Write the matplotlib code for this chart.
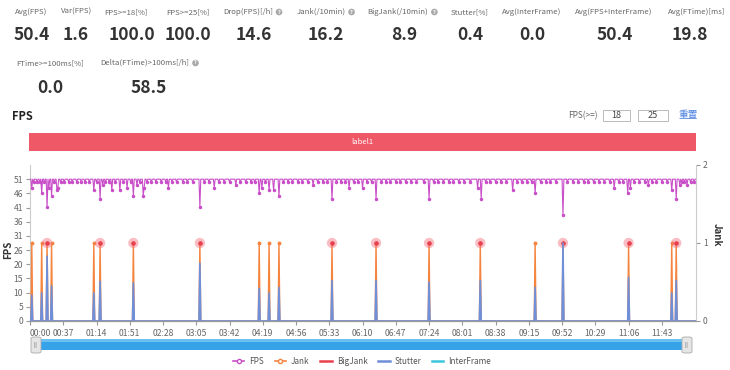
import numpy as np
import matplotlib.pyplot as plt
from matplotlib.patches import Rectangle, FancyBboxPatch
from matplotlib.lines import Line2D

plt.rcParams['font.family'] = ['Noto Sans CJK SC', 'DejaVu Sans']

# ---- data ----
metric_names = ["Avg(FPS)", "Var(FPS)", "FPS>=18[%]", "FPS>=25[%]", "Drop(FPS)[/h]",
                "Jank(/10min)", "BigJank(/10min)", "Stutter[%]", "Avg(InterFrame)",
                "Avg(FPS+InterFrame)", "Avg(FTime)[ms]", "FTime>=100ms[%]",
                "Delta(FTime)>100ms[/h]"]
metric_values = ["50.4", "1.6", "100.0", "100.0", "14.6", "16.2", "8.9", "0.4", "0.0",
                 "50.4", "19.8", "0.0", "58.5"]
metric_help = [False, False, False, False, True, True, True, False, False, False, False,
               False, True]

n_seconds = 742
fps_base = 51
# seconds where FPS drops by one frame
fps_small_dips = [4, 8, 11, 16, 27, 34, 38, 43, 47, 52, 57, 61, 66, 74, 84, 88, 95, 104,
                  112, 122, 130, 135, 140, 146, 151, 158, 163, 170, 175, 181, 194, 199,
                  210, 216, 222, 234, 240, 246, 250, 262, 282, 287, 292, 298, 303, 309,
                  320, 326, 331, 341, 346, 351, 360, 365, 375, 380, 391, 396, 401, 407,
                  412, 418, 424, 430, 438, 449, 454, 460, 466, 471, 477, 483, 490, 507,
                  512, 518, 524, 530, 542, 547, 553, 558, 568, 574, 579, 585, 598, 604,
                  610, 616, 621, 627, 633, 639, 645, 655, 660, 672, 678, 684, 692, 697,
                  703, 709, 725, 728, 735, 739]
fps_drop_t = [2, 13, 19, 21, 24, 30, 31, 71, 78, 81, 91, 100, 108, 115, 119, 126, 127,
              154, 189, 205, 229, 255, 258, 266, 271, 277, 315, 336, 355, 370, 385, 444,
              498, 502, 537, 562, 593, 650, 665, 668, 688, 714, 719, 723, 731]
fps_drop_v = [48, 46, 41, 48, 45, 47, 48, 47, 44, 49, 47, 47, 48, 45, 49, 45, 48,
              48, 41, 48, 49, 46, 48, 47, 47, 45, 49, 44, 48, 48, 44, 44,
              48, 44, 47, 46, 38, 48, 46, 48, 49, 47, 44, 49, 49]

jank_t = [2, 13, 19, 24, 71, 78, 115, 189, 255, 266, 277, 336, 385, 444, 501, 562, 593,
          666, 714, 719]
bigjank_t = [19, 78, 115, 189, 336, 385, 444, 501, 593, 666, 719]
stutter_v = [0.33, 0.36, 0.83, 0.45, 0.36, 0.51, 0.49, 0.74, 0.42, 0.36, 0.43, 0.52,
             0.52, 0.50, 0.52, 0.43, 1.0, 0.56, 0.36, 0.52]

fps_ticks = [0, 5.1, 10.2, 15.3, 20.4, 25.5, 30.6, 35.7, 40.8, 45.9, 51]
fps_tick_labels = ["0", "5", "10", "15", "20", "26", "31", "36", "41", "46", "51"]
time_ticks = [0, 37, 74, 111, 148, 185, 222, 259, 296, 333, 370, 407, 444, 481, 518,
              555, 592, 629, 666, 703]
time_labels = ["00:00", "00:37", "01:14", "01:51", "02:28", "03:05", "03:42", "04:19",
               "04:56", "05:33", "06:10", "06:47", "07:24", "08:01", "08:38", "09:15",
               "09:52", "10:29", "11:06", "11:43"]

series_names = ["FPS", "Jank", "BigJank", "Stutter", "InterFrame"]

# ---- colours ----
c_fps = '#c94fc9'
c_jank = '#f5843f'
c_big = '#e8404f'
c_stutter = '#6f8fd8'
c_inter = '#3cc6dc'
c_text = '#333333'
c_label = '#666666'

W, H = 730, 370


def fx(x):
    return x / W


def fy(y):
    return 1 - y / H


fig = plt.figure(figsize=(7.3, 3.7), dpi=100)
renderer = fig.canvas.get_renderer()

# ---- metric header ----
label_cx = [31, 77, 126, 188, 248, 321, 398, 470, 532, 614, 697, 50, 145]
label_y = [12] * 11 + [63] * 2
value_xy = [(32, 35), (76, 35), (132, 35), (188, 35), (254, 35), (326, 35), (404, 35),
            (470, 35), (532, 35), (615, 35), (690, 35), (50, 88), (149, 88)]

for i, (name, val) in enumerate(zip(metric_names, metric_values)):
    vx, vy = value_xy[i]
    txt = fig.text(fx(label_cx[i]), fy(label_y[i]), name, fontsize=5.6, color=c_label,
                   ha='center', va='center')
    fig.text(fx(vx), fy(vy), val, fontsize=12.5, fontweight='bold', color=c_text,
             ha='center', va='center')
    if metric_help[i]:
        bb = txt.get_window_extent(renderer)
        fig.text(fx(bb.x1 + 6), fy(label_y[i]), '?', fontsize=4, color='white',
                 ha='center', va='center', fontweight='bold',
                 bbox=dict(boxstyle='circle,pad=0.15', fc='#aaaaaa', ec='none'))

# ---- chart title and controls ----
fig.text(fx(12), fy(117), 'FPS', fontsize=8, fontweight='bold', color='#222', va='center')
fig.text(fx(598), fy(116), 'FPS(>=)', fontsize=6, color=c_label, ha='right', va='center')
for (bx, bw, txt) in [(603, 27, '18'), (638, 30, '25')]:
    fig.add_artist(Rectangle((fx(bx), fy(121)), bw / W, 11 / H, transform=fig.transFigure,
                             fc='white', ec='#bbbbbb', lw=0.7))
    fig.text(fx(bx + bw / 2), fy(115.5), txt, fontsize=6.5, color='#444', ha='center',
             va='center')
fig.text(fx(688), fy(115), '重置', fontsize=7, color='#4a80e0', ha='center', va='center')

# label bar
fig.add_artist(Rectangle((fx(29), fy(151)), 667 / W, 18 / H, transform=fig.transFigure,
                         fc='#ee5867', ec='none'))
fig.text(fx(362), fy(142), 'label1', fontsize=5.5, color='white', ha='center', va='center')

# ---- main chart ----
ax = fig.add_axes([fx(30), fy(321), 666 / W, 156 / H])
t = np.arange(n_seconds)

fps = np.full(n_seconds, fps_base, dtype=float)
fps[fps_small_dips] = fps_base - 1
fps[fps_drop_t] = fps_drop_v
dip_idx = sorted(set(fps_small_dips) | set(fps_drop_t))
ax.plot(t, fps, color=c_fps, lw=0.8, marker='o', ms=1.5, markevery=dip_idx, zorder=3)

ax.set_xlim(0, n_seconds - 1)
ax.set_ylim(0, 56.1)
ax.set_yticks(fps_ticks, fps_tick_labels)
ax.set_xticks(time_ticks, time_labels)
ax.get_xticklabels()[0].set_horizontalalignment('left')
ax.tick_params(axis='y', labelsize=6.2, colors=c_label, length=3, color='#999', pad=2)
ax.tick_params(axis='x', labelsize=6.2, colors=c_label, length=3, color='#999', pad=3)
ax.spines['top'].set_visible(False)
ax.spines['right'].set_visible(False)
ax.spines['left'].set_color('#cccccc')
ax.spines['bottom'].set_color('#999999')

ax2 = ax.twinx()
jank = np.zeros(n_seconds)
jank[jank_t] = 1
stutter = np.zeros(n_seconds)
stutter[jank_t] = stutter_v

ax2.plot(t, jank, color=c_jank, lw=1.0, marker='o', ms=1.8, markevery=jank_t, zorder=2)
ax2.scatter(bigjank_t, np.ones(len(bigjank_t)), s=55, color='#f26d7a', alpha=0.45,
            edgecolors='none', zorder=3)
ax2.scatter(bigjank_t, np.ones(len(bigjank_t)), s=5, color=c_big, zorder=4)
ax2.plot(t, stutter, color=c_stutter, lw=1.2, zorder=5)

ax2.set_ylim(0, 2)
ax2.set_yticks([0, 1, 2])
ax2.tick_params(axis='y', labelsize=6.2, colors=c_label, length=3, color='#999', pad=2)
ax2.spines['top'].set_visible(False)
ax2.spines['left'].set_visible(False)
ax2.spines['right'].set_color('#cccccc')
ax2.spines['bottom'].set_color('#999999')
ax2.spines['bottom'].set_zorder(10)

fig.text(fx(8), fy(250), 'FPS', fontsize=7, fontweight='bold', color='#333',
         rotation=90, ha='center', va='center')
fig.text(fx(717), fy(235), 'Jank', fontsize=7, fontweight='bold', color='#333',
         rotation=-90, ha='center', va='center')

# ---- zoom slider ----
fig.add_artist(Rectangle((fx(32), fy(350)), 658 / W, 11 / H, transform=fig.transFigure,
                         fc='#36a2e8', ec='none'))
fig.add_artist(Rectangle((fx(32), fy(342)), 658 / W, 3 / H, transform=fig.transFigure,
                         fc='#6cc0f2', ec='none'))
for hx in (31, 682):
    fig.add_artist(FancyBboxPatch((fx(hx), fy(353)), 10 / W, 16 / H,
                                  boxstyle='round,pad=0,rounding_size=0.004',
                                  transform=fig.transFigure, fc='#e6e6e6', ec='#aaaaaa',
                                  lw=0.6))
    fig.text(fx(hx + 5), fy(345), '|||', fontsize=3.5, color='#888', ha='center',
             va='center')

# ---- legend ----
handles = [
    Line2D([], [], color=c_fps, marker='o', ms=3, mfc='white', lw=1.2),
    Line2D([], [], color=c_jank, marker='o', ms=3, mfc='white', lw=1.2),
    Line2D([], [], color=c_big, lw=1.8),
    Line2D([], [], color=c_stutter, lw=1.8),
    Line2D([], [], color=c_inter, lw=1.8),
]
fig.legend(handles, series_names, loc='center', bbox_to_anchor=(fx(362), fy(361)),
           ncol=5, frameon=False, fontsize=5.9, handlelength=1.4, columnspacing=1.3,
           handletextpad=0.6, labelcolor='#555')

fig.savefig('out.png', dpi=100)
